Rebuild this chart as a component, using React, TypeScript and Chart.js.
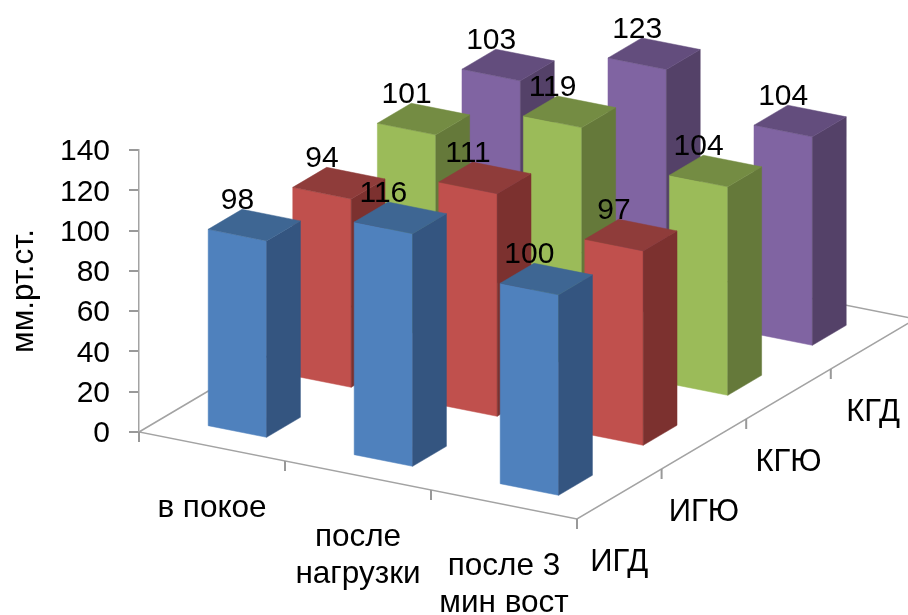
import { useEffect, useRef } from "react";
import { BarController, Chart, registerables } from "chart.js";

Chart.register(...registerables);

const categories = ["в покое", "после нагрузки", "после 3 мин вост"];
const categoryLines = [["в покое"], ["после", "нагрузки"], ["после 3", "мин вост"]];
const seriesNames = ["ИГД", "ИГЮ", "КГЮ", "КГД"];
const igd = [98, 116, 100];
const igyu = [94, 111, 97];
const kgyu = [101, 119, 104];
const kgd = [103, 123, 104];
const yTicksMax = 140;
const yTicksStep = 20;

const FONT = '"Liberation Sans", Arial, sans-serif';
const AXIS_COLOR = "#a3a3a3";

// Face colours: front, top, side
const blueFaces = ["#4f81bd", "#3e6693", "#345580"];
const redFaces = ["#c0504d", "#8f3c3a", "#7c312f"];
const greenFaces = ["#9bbb59", "#748c43", "#65793a"];
const purpleFaces = ["#8064a2", "#634d7d", "#544168"];

// Oblique floor projection: one series step along the depth axis,
// plus the downward drift per pixel along the category axis.
const DEPTH_X = 84.6;
const DEPTH_Y = 50;
const CATEGORY_SLOPE = 29 / 146;
const BAR_SHARE = 0.4;
const SIDE_GAP = (1 - BAR_SHARE) / 2;

function project(chart: any, px: number, depth: number, lift = 0) {
  const { left } = chart.chartArea;
  const zero = chart.scales.y.getPixelForValue(0);
  return {
    x: px + depth * DEPTH_X,
    y: zero + (px - left) * CATEGORY_SLOPE - depth * DEPTH_Y - lift,
  };
}

function fillFace(ctx: CanvasRenderingContext2D, pts: { x: number; y: number }[], color: string) {
  ctx.beginPath();
  pts.forEach((p, i) => (i ? ctx.lineTo(p.x, p.y) : ctx.moveTo(p.x, p.y)));
  ctx.closePath();
  ctx.fillStyle = color;
  ctx.strokeStyle = color;
  ctx.lineWidth = 0.5;
  ctx.fill();
  ctx.stroke();
}

// Bar controller that paints each element as a box standing on the floor.
class Bar3DController extends BarController {
  static id = "bar3d";
  static defaults = BarController.defaults;
  static overrides = BarController.overrides;

  draw() {
    const chart: any = this.chart;
    const ctx = chart.ctx;
    const index = this.index;
    const faces = (chart.data.datasets[index] as any).faces as string[];
    const front = index + SIDE_GAP;
    const back = front + BAR_SHARE;
    ctx.save();
    for (const bar of this._cachedMeta.data as any[]) {
      const l = bar.x - bar.width / 2;
      const r = bar.x + bar.width / 2;
      const h = bar.base - bar.y;
      const a = project(chart, l, front);
      const b = project(chart, r, front);
      const c = project(chart, r, back);
      const at = project(chart, l, front, h);
      const bt = project(chart, r, front, h);
      const ct = project(chart, r, back, h);
      const dt = project(chart, l, back, h);
      fillFace(ctx, [a, b, bt, at], faces[0]);
      fillFace(ctx, [b, c, ct, bt], faces[2]);
      fillFace(ctx, [at, bt, ct, dt], faces[1]);
    }
    ctx.restore();
  }
}
Chart.register(Bar3DController);

const floorPlugin = {
  id: "floor",
  beforeDatasetsDraw(chart: any) {
    const ctx: CanvasRenderingContext2D = chart.ctx;
    const { left, right } = chart.chartArea;
    const n = seriesNames.length;
    const nearLeft = project(chart, left, 0);
    const nearRight = project(chart, right, 0);
    const farLeft = project(chart, left, n);
    const farRight = project(chart, right, n);
    ctx.save();
    ctx.strokeStyle = AXIS_COLOR;
    ctx.lineWidth = 1.5;
    ctx.beginPath();
    ctx.moveTo(farLeft.x, farLeft.y);
    ctx.lineTo(nearLeft.x, nearLeft.y);
    ctx.lineTo(nearRight.x, nearRight.y);
    ctx.lineTo(farRight.x, farRight.y);
    ctx.lineTo(farLeft.x, farLeft.y);
    ctx.stroke();

    // Tick marks hanging from the two front edges
    ctx.lineWidth = 2;
    ctx.strokeStyle = "#999999";
    ctx.beginPath();
    const step = (right - left) / categories.length;
    for (let i = 0; i <= categories.length; i++) {
      const p = project(chart, left + i * step, 0);
      ctx.moveTo(p.x, p.y);
      ctx.lineTo(p.x, p.y + 10);
    }
    for (let s = 1; s < n; s++) {
      const p = project(chart, right, s);
      ctx.moveTo(p.x, p.y);
      ctx.lineTo(p.x, p.y + 10);
    }
    ctx.stroke();
    ctx.restore();
  },
  afterDatasetsDraw(chart: any) {
    const ctx: CanvasRenderingContext2D = chart.ctx;
    const { right } = chart.chartArea;
    ctx.save();
    ctx.fillStyle = "#000000";
    ctx.textAlign = "center";
    ctx.textBaseline = "alphabetic";

    // Value labels sit above the top face, centred on the front face
    ctx.font = `30px ${FONT}`;
    chart.data.datasets.forEach((ds: any, s: number) => {
      chart.getDatasetMeta(s).data.forEach((bar: any, i: number) => {
        const p = project(chart, bar.x - bar.width / 2, s + SIDE_GAP, bar.base - bar.y);
        ctx.fillText(String(ds.data[i]), p.x + bar.width / 2, p.y - 20);
      });
    });

    // Category labels under the near edge
    ctx.font = `31.5px ${FONT}`;
    categoryLines.forEach((lines, i) => {
      const cx = chart.scales.x.getPixelForValue(i);
      const p = project(chart, cx, 0);
      lines.forEach((line, k) => ctx.fillText(line, cx, p.y + 70.5 + k * 36.5));
    });

    // Series labels along the right edge
    ctx.font = `31px ${FONT}`;
    seriesNames.forEach((name, s) => {
      const p = project(chart, right, s + 0.5);
      ctx.fillText(name, p.x, p.y + 76.5);
    });
    ctx.restore();
  },
};

export default function App() {
  const ref = useRef<HTMLCanvasElement>(null);
  useEffect(() => {
    const values = [igd, igyu, kgyu, kgd];
    const faces = [blueFaces, redFaces, greenFaces, purpleFaces];
    const chart = new Chart(ref.current!, {
      type: "bar3d" as any,
      data: {
        labels: categories,
        datasets: seriesNames.map((label, i) => ({
          label,
          data: values[i],
          faces: faces[i],
          backgroundColor: faces[i][0],
          clip: false,
          grouped: false,
          categoryPercentage: BAR_SHARE,
          barPercentage: 1,
        })) as any,
      },
      options: {
        responsive: false,
        animation: false,
        layout: { padding: { left: 0, top: 150, right: 331, bottom: 183 } },
        plugins: { legend: { display: false }, tooltip: { enabled: false } },
        scales: {
          x: { type: "category", display: false, offset: true },
          y: {
            min: 0,
            max: yTicksMax,
            afterFit: (scale: any) => {
              scale.width = 139;
            },
            border: { color: AXIS_COLOR, width: 1.5 },
            grid: { drawOnChartArea: false, color: "#999999", lineWidth: 2, tickLength: 10 },
            ticks: {
              stepSize: yTicksStep,
              color: "#000000",
              padding: 19,
              labelOffset: 2,
              font: { family: FONT, size: 30 },
            },
            title: {
              display: true,
              text: "мм.рт.ст.",
              color: "#000000",
              padding: { top: 5, bottom: 0 },
              font: { family: FONT, size: 31.5 },
            },
          },
        },
      },
      plugins: [floorPlugin],
    } as any);
    return () => chart.destroy();
  }, []);
  return (
    <canvas
      ref={ref}
      width={908}
      height={615}
      style={{ position: "absolute", left: 0, top: 0, display: "block" }}
    />
  );
}
